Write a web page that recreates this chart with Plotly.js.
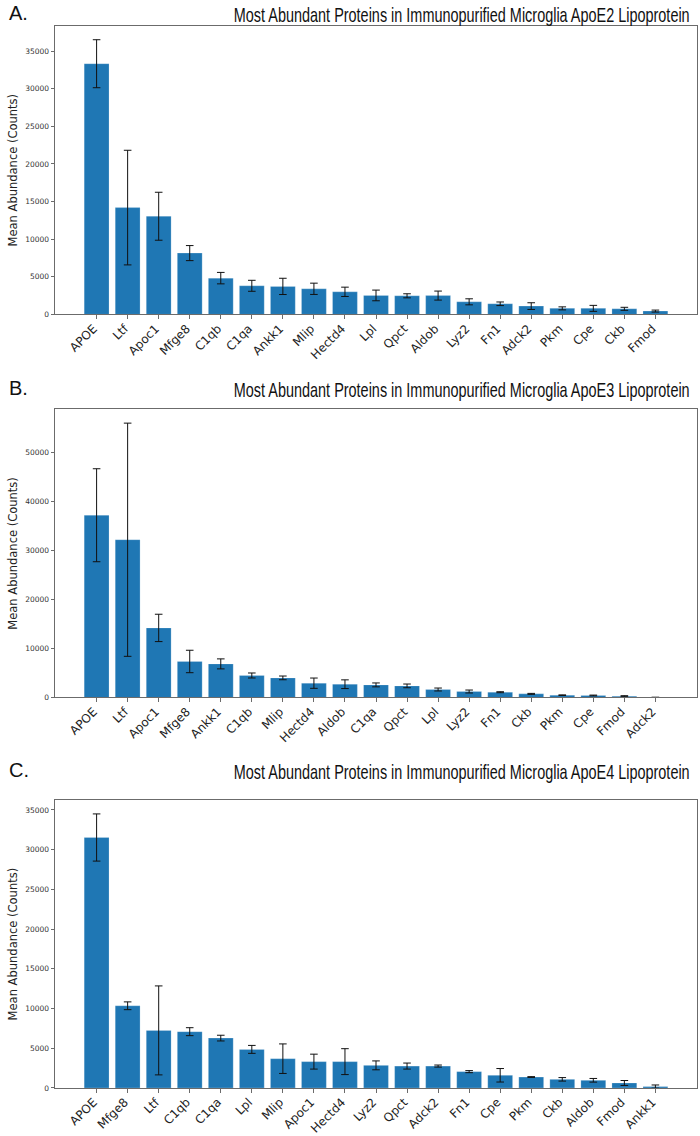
<!DOCTYPE html>
<html>
<head>
<meta charset="utf-8">
<script src="https://cdn.plot.ly/plotly-3.0.1.min.js"></script>
<style>
  html, body { margin: 0; padding: 0; background: #fff; }
  #chart { width: 700px; height: 1136px; }
</style>
</head>
<body>
<div id="chart"></div>
<script>
// ApoE2 lipoprotein: mean abundance (counts) and error
const proteinsE2 = ["APOE", "Ltf", "Apoc1", "Mfge8", "C1qb", "C1qa", "Ankk1", "Mlip", "Hectd4", "Lpl",
                    "Qpct", "Aldob", "Lyz2", "Fn1", "Adck2", "Pkm", "Cpe", "Ckb", "Fmod"];
const meanE2 = [33330, 14200, 13050, 8150, 4820, 3800, 3720, 3400, 3000, 2520,
                2470, 2500, 1670, 1410, 1100, 800, 800, 740, 440];
const errE2  = [3190, 7620, 3190, 1000, 760, 730, 1080, 750, 620, 710,
                270, 600, 400, 240, 445, 200, 400, 200, 130];

// ApoE3 lipoprotein
const proteinsE3 = ["APOE", "Ltf", "Apoc1", "Mfge8", "Ankk1", "C1qb", "Mlip", "Hectd4", "Aldob", "C1qa",
                    "Qpct", "Lpl", "Lyz2", "Fn1", "Ckb", "Pkm", "Cpe", "Fmod", "Adck2"];
const meanE3 = [37200, 32200, 14200, 7350, 6860, 4490, 4000, 2920, 2710, 2570,
                2370, 1630, 1220, 1080, 740, 470, 410, 270, 30];
const errE3  = [9490, 23800, 2790, 2290, 1020, 510, 380, 1050, 890, 400,
                380, 300, 300, 100, 100, 60, 80, 100, 0];

// ApoE4 lipoprotein
const proteinsE4 = ["APOE", "Mfge8", "Ltf", "C1qb", "C1qa", "Lpl", "Mlip", "Apoc1", "Hectd4", "Lyz2",
                    "Qpct", "Adck2", "Fn1", "Cpe", "Pkm", "Ckb", "Aldob", "Fmod", "Ankk1"];
const meanE4 = [31530, 10350, 7250, 7090, 6280, 4860, 3690, 3320, 3320, 2850,
                2760, 2760, 2060, 1600, 1380, 1090, 970, 630, 180];
const errE4  = [2970, 490, 5600, 500, 360, 500, 1860, 940, 1630, 560,
                380, 130, 130, 850, 50, 220, 230, 310, 200];

const panelTitles = [
  "Most Abundant Proteins in Immunopurified Microglia ApoE2 Lipoprotein",
  "Most Abundant Proteins in Immunopurified Microglia ApoE3 Lipoprotein",
  "Most Abundant Proteins in Immunopurified Microglia ApoE4 Lipoprotein"
];
const panelLetters = ["A.", "B.", "C."];
const yTickStep = [5000, 10000, 5000];
const yAxisTitle = "Mean Abundance (Counts)";

// ---- layout geometry (pixels) ----
const W = 700, H = 1136;
const plotLeft = 55, plotRight = 697, plotTop = 26, plotBottom = 1087.7;
const innerH = plotBottom - plotTop;
const panelPx = [[26, 314.3], [409.3, 697.3], [800, 1087.7]];   // top, bottom of each axes box
const titlePxY = [13, 388, 770];
const titleCenterX = 461, titleWidth = 456, titleSize = 20;
const toPaperY = py => (plotBottom - py) / innerH;
const toPaperX = px => (px - plotLeft) / (plotRight - plotLeft);

const BAR = "#1f77b4";
const FRAME = "#6b6b6b";
const TITLE_FONT = "'Liberation Sans', Arial, sans-serif";
const BODY_FONT = "'DejaVu Sans', sans-serif";

const sets = [
  [proteinsE2, meanE2, errE2],
  [proteinsE3, meanE3, errE3],
  [proteinsE4, meanE4, errE4]
];

const traces = [];
const layout = {
  width: W, height: H,
  margin: { l: plotLeft, r: W - plotRight, t: plotTop, b: H - plotBottom, pad: 0 },
  paper_bgcolor: "#fff", plot_bgcolor: "#fff",
  showlegend: false,
  bargap: 0.2,
  font: { family: BODY_FONT, color: "#333" },
  annotations: []
};

sets.forEach(([cats, means, errs], i) => {
  const ax = i === 0 ? "" : String(i + 1);
  traces.push({
    type: "bar",
    x: cats, y: means,
    xaxis: "x" + ax, yaxis: "y" + ax,
    marker: { color: BAR, line: { color: "rgba(255,255,255,0.35)", width: 0.6 } },
    error_y: { type: "data", array: errs, visible: true, color: "#111", thickness: 1, width: 3.8 },
    hoverinfo: "x+y"
  });

  // matplotlib-style autoscale: 5% headroom above the tallest error bar
  const top = Math.max(...means.map((m, k) => m + errs[k])) * 1.05;
  const n = cats.length;
  const span = (n - 1) + 0.8;
  const pad = 0.05 * span;

  const tickvals = [];
  for (let v = 0; v <= top; v += yTickStep[i]) tickvals.push(v);

  const [pt, pb] = panelPx[i];
  layout["xaxis" + ax] = {
    type: "category",
    anchor: "y" + ax,
    domain: [0, 1],
    range: [-0.4 - pad, n - 1 + 0.4 + pad],
    tickangle: -45,
    tickfont: { family: BODY_FONT, size: 12, color: "#222" },
    ticklabelstandoff: -2,
    ticklabelshift: -3,
    ticks: "outside", ticklen: 3.5, tickwidth: 1, tickcolor: FRAME,
    showline: true, mirror: true, linecolor: FRAME, linewidth: 1,
    showgrid: false, zeroline: false, automargin: false
  };
  layout["yaxis" + ax] = {
    anchor: "x" + ax,
    domain: [toPaperY(pb), toPaperY(pt)],
    range: [0, top],
    tickvals: tickvals,
    ticktext: tickvals.map(v => String(v)),
    tickfont: { family: BODY_FONT, size: 7.5, color: "#333" },
    ticks: "outside", ticklen: 3.5, tickwidth: 1, tickcolor: FRAME,
    showline: true, mirror: true, linecolor: FRAME, linewidth: 1,
    showgrid: false, zeroline: false, automargin: false,
    title: { text: yAxisTitle, font: { family: BODY_FONT, size: 11.5, color: "#222" }, standoff: 5 }
  };

  layout.annotations.push({
    xref: "paper", yref: "paper",
    x: toPaperX(titleCenterX), y: toPaperY(titlePxY[i]),
    xanchor: "center", yanchor: "middle",
    text: panelTitles[i], showarrow: false,
    font: { family: TITLE_FONT, size: titleSize, color: "#111" }
  });
  layout.annotations.push({
    xref: "paper", yref: "paper",
    x: toPaperX(7), y: toPaperY(titlePxY[i]),
    xanchor: "left", yanchor: "middle",
    text: panelLetters[i], showarrow: false,
    font: { family: TITLE_FONT, size: titleSize, color: "#111" }
  });
});

Plotly.newPlot("chart", traces, layout, { staticPlot: true, displayModeBar: false }).then(gd => {
  // Panel titles use a tall, condensed letterform: shrink the face until the line
  // fits the title span, then stretch it vertically back to the full cap height.
  gd.querySelectorAll(".annotation-text").forEach(t => {
    if (!panelTitles.includes(t.textContent)) return;
    const natural = t.getComputedTextLength();
    const k = natural / titleWidth;
    t.style.fontSize = (titleSize / k) + "px";
    const bb = t.getBBox();
    const midY = bb.y + bb.height / 2;
    t.setAttribute("transform",
      `translate(0 ${midY}) scale(1 ${k}) translate(0 ${-midY})`);
  });
});
</script>
</body>
</html>
